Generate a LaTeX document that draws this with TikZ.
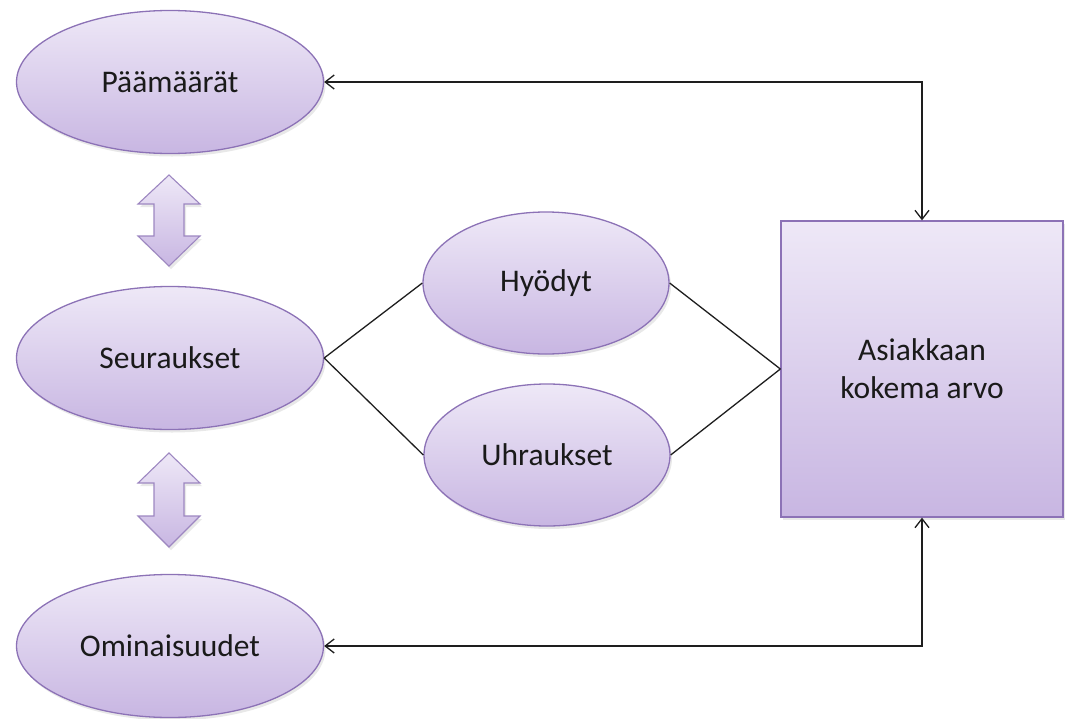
\documentclass[tikz,border=0pt]{standalone}
\usepackage{fontspec}
\setmainfont{Carlito}
\usetikzlibrary{shapes.geometric,arrows.meta,shadows}
\definecolor{topc}{HTML}{EEE8F7}
\definecolor{botc}{HTML}{C8B6E2}
\definecolor{edgec}{HTML}{8C72B6}
\definecolor{txtc}{HTML}{1A1A1A}
\definecolor{linec}{HTML}{1E1E1E}
\tikzset{
  shp/.style={draw=edgec, line width=1.3pt, top color=topc, bottom color=botc,
    text=txtc, font=\fontsize{31.5}{38}\selectfont, align=center, inner sep=0pt,
    drop shadow={opacity=0.18, shadow xshift=2pt, shadow yshift=-3pt}},
  ell/.style={shp, ellipse},
  boxnode/.style={shp, rectangle},
  conn/.style={draw=linec, line width=1.3pt},
  arr/.style={conn, {Straight Barb[length=9pt,width=14pt,line width=1.3pt]}-{Straight Barb[length=9pt,width=14pt,line width=1.3pt]}},
  dbl/.style={draw=edgec!85, line width=1.1pt, top color=topc, bottom color=botc,
    drop shadow={opacity=0.18, shadow xshift=2pt, shadow yshift=-3pt}}
}
\begin{document}
\begin{tikzpicture}[x=1pt,y=-1pt]
\useasboundingbox (0,0) rectangle (1066,718);
\node[ell, minimum width=307pt, minimum height=143pt] (pm) at (170,82) {Päämäärät};
\node[ell, minimum width=307pt, minimum height=143pt] (seu) at (170,358) {Seuraukset};
\node[ell, minimum width=307pt, minimum height=143pt] (om) at (170,646) {Ominaisuudet};
\node[ell, minimum width=246pt, minimum height=142pt] (hy) at (546,283) {Hyödyt};
\node[ell, minimum width=246pt, minimum height=142pt] (uh) at (547,455) {Uhraukset};
\node[boxnode, minimum width=282pt, minimum height=296pt] (box) at (922,369) {Asiakkaan\\kokema arvo};
% double arrows
\path[dbl] (169,175) -- (200,204) -- (184,204) -- (184,236) -- (200,236) -- (169,266) -- (138,236) -- (154,236) -- (154,204) -- (138,204) -- cycle;
\path[dbl] (169,453) -- (200,483) -- (184,483) -- (184,516) -- (200,516) -- (169,547) -- (138,516) -- (154,516) -- (154,483) -- (138,483) -- cycle;
% connectors
\draw[conn] (seu.east) -- (hy.west);
\draw[conn] (seu.east) -- (uh.west);
\draw[conn] (hy.east) -- (box.west);
\draw[conn] (uh.east) -- (box.west);
\draw[arr] (pm.east) -| (box.north);
\draw[arr] (om.east) -| (box.south);
\end{tikzpicture}
\end{document}
